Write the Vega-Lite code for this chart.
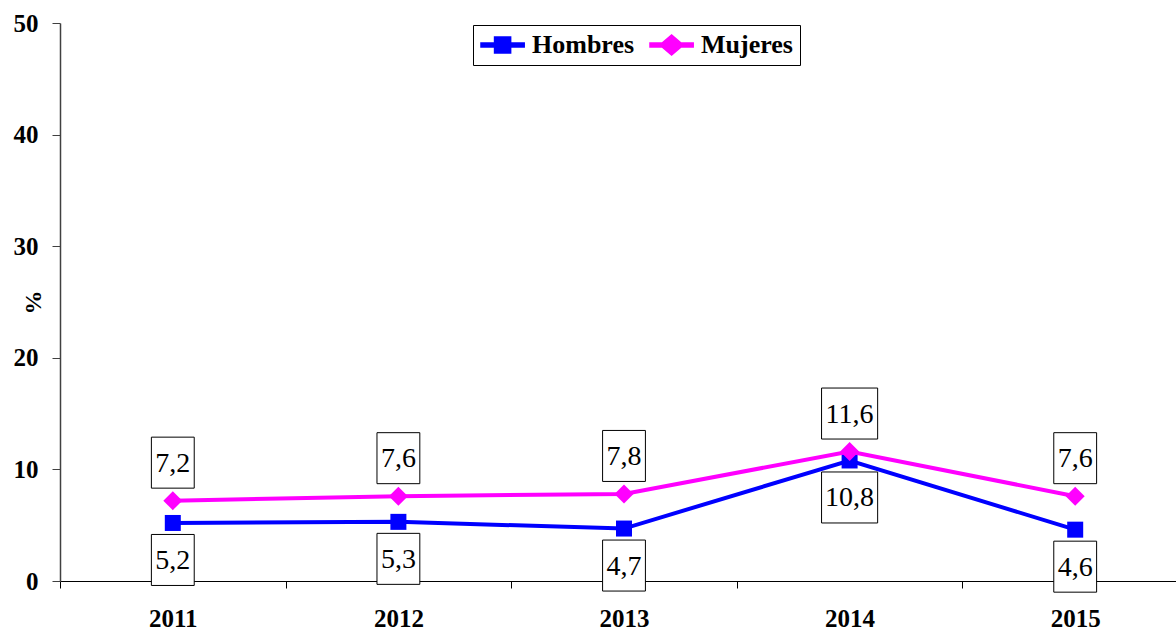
{
  "$schema": "https://vega.github.io/schema/vega-lite/v6.json",
  "width": 1116,
  "height": 558,
  "autosize": "none",
  "padding": {"left": 60, "top": 23, "right": 0, "bottom": 49},
  "background": "white",
  "config": {"view": {"stroke": null}, "font": "'Liberation Serif', 'Times New Roman', serif"},
  "data": {
    "values": [
      {"anio": "2011", "serie": "Hombres", "valor": 5.2, "etiqueta": "5,2"},
      {"anio": "2012", "serie": "Hombres", "valor": 5.3, "etiqueta": "5,3"},
      {"anio": "2013", "serie": "Hombres", "valor": 4.7, "etiqueta": "4,7"},
      {"anio": "2014", "serie": "Hombres", "valor": 10.8, "etiqueta": "10,8"},
      {"anio": "2015", "serie": "Hombres", "valor": 4.6, "etiqueta": "4,6"},
      {"anio": "2011", "serie": "Mujeres", "valor": 7.2, "etiqueta": "7,2"},
      {"anio": "2012", "serie": "Mujeres", "valor": 7.6, "etiqueta": "7,6"},
      {"anio": "2013", "serie": "Mujeres", "valor": 7.8, "etiqueta": "7,8"},
      {"anio": "2014", "serie": "Mujeres", "valor": 11.6, "etiqueta": "11,6"},
      {"anio": "2015", "serie": "Mujeres", "valor": 7.6, "etiqueta": "7,6"}
    ]
  },
  "encoding": {
    "x": {
      "field": "anio",
      "type": "ordinal",
      "scale": {"range": [0, 1128], "paddingInner": 0, "paddingOuter": 0},
      "axis": {
        "title": null,
        "labelAngle": 0,
        "labelFont": "'Liberation Serif', 'Times New Roman', serif",
        "labelFontSize": 25,
        "labelFontWeight": "bold",
        "labelColor": "black",
        "labelPadding": 18,
        "tickBand": "extent",
        "tickSize": 7,
        "tickColor": "black",
        "domainColor": "black",
        "domainWidth": 1,
        "zindex": 0
      }
    },
    "y": {
      "field": "valor",
      "type": "quantitative",
      "scale": {"domain": [0, 50], "nice": false},
      "axis": {
        "values": [0, 10, 20, 30, 40, 50],
        "grid": false,
        "title": "%",
        "titleFont": "'Liberation Serif', 'Times New Roman', serif",
        "titleFontSize": 24,
        "titleFontWeight": "bold",
        "titleColor": "black",
        "titleX": -27,
        "titleY": 279,
        "titleAlign": "center",
        "titleBaseline": "middle",
        "labelFont": "'Liberation Serif', 'Times New Roman', serif",
        "labelFontSize": 25,
        "labelFontWeight": "bold",
        "labelColor": "black",
        "labelPadding": 14,
        "tickSize": 8,
        "tickColor": "#404040",
        "domainColor": "#404040",
        "domainWidth": 1.5,
        "zindex": 0
      }
    }
  },
  "layer": [
    {
      "transform": [{"filter": "datum.serie === 'Hombres'"}],
      "mark": {"type": "line", "strokeWidth": 4},
      "encoding": {
        "color": {
          "field": "serie",
          "type": "nominal",
          "scale": {"domain": ["Hombres", "Mujeres"], "range": ["#0000FF", "#FF00FF"]},
          "legend": {
            "orient": "none",
            "legendX": 413,
            "legendY": 2,
            "direction": "horizontal",
            "title": null,
            "fillColor": "white",
            "strokeColor": "black",
            "padding": 7,
            "labelFont": "'Liberation Serif', 'Times New Roman', serif",
            "labelFontSize": 26,
            "labelFontWeight": "bold",
            "labelColor": "black",
            "symbolSize": 576,
            "labelOffset": 26,
            "columnPadding": 12,
            "encode": {
              "symbols": {
                "update": {
                  "shape": {"signal": "datum.value === 'Hombres' ? 'M-1,-0.17H0.13V-0.67H1.47V-0.17H2.6V0.17H1.47V0.67H0.13V0.17H-1Z' : 'M-1,-0.17H0.01L0.8,-0.83L1.59,-0.17H2.6V0.17H1.59L0.8,0.83L0.01,0.17H-1Z'"},
                  "fill": {"scale": "color", "field": "value"},
                  "stroke": {"value": "transparent"},
                  "opacity": {"value": 1}
                }
              }
            }
          }
        }
      }
    },
    {
      "transform": [{"filter": "datum.serie === 'Hombres'"}],
      "mark": {"type": "point", "shape": "square", "filled": true, "size": 256, "opacity": 1},
      "encoding": {"color": {"field": "serie", "type": "nominal"}}
    },
    {
      "transform": [{"filter": "datum.serie === 'Mujeres'"}],
      "mark": {"type": "line", "strokeWidth": 4},
      "encoding": {"color": {"field": "serie", "type": "nominal"}}
    },
    {
      "transform": [{"filter": "datum.serie === 'Mujeres'"}],
      "mark": {"type": "point", "shape": "diamond", "filled": true, "size": 361, "opacity": 1},
      "encoding": {"color": {"field": "serie", "type": "nominal"}}
    },
    {
      "transform": [{"filter": "datum.serie === 'Hombres'"}],
      "mark": {"type": "point", "filled": true, "fill": "white", "stroke": "black", "strokeWidth": 1, "opacity": 1, "size": 2601, "yOffset": 37},
      "encoding": {
        "shape": {"condition": {"test": "datum.valor >= 10", "value": "M-1.1,-1H1.1V1H-1.1Z"}, "value": "M-0.84,-1H0.84V1H-0.84Z"}
      }
    },
    {
      "transform": [{"filter": "datum.serie === 'Mujeres'"}],
      "mark": {"type": "point", "filled": true, "fill": "white", "stroke": "black", "strokeWidth": 1, "opacity": 1, "size": 2601, "yOffset": -38},
      "encoding": {
        "shape": {"condition": {"test": "datum.valor >= 10", "value": "M-1.1,-1H1.1V1H-1.1Z"}, "value": "M-0.84,-1H0.84V1H-0.84Z"}
      }
    },
    {
      "transform": [{"filter": "datum.serie === 'Hombres'"}],
      "mark": {"type": "text", "font": "'Liberation Serif', 'Times New Roman', serif", "fontSize": 28, "color": "black", "align": "center", "baseline": "middle", "yOffset": 38},
      "encoding": {"text": {"field": "etiqueta"}}
    },
    {
      "transform": [{"filter": "datum.serie === 'Mujeres'"}],
      "mark": {"type": "text", "font": "'Liberation Serif', 'Times New Roman', serif", "fontSize": 28, "color": "black", "align": "center", "baseline": "middle", "yOffset": -37},
      "encoding": {"text": {"field": "etiqueta"}}
    }
  ]
}
